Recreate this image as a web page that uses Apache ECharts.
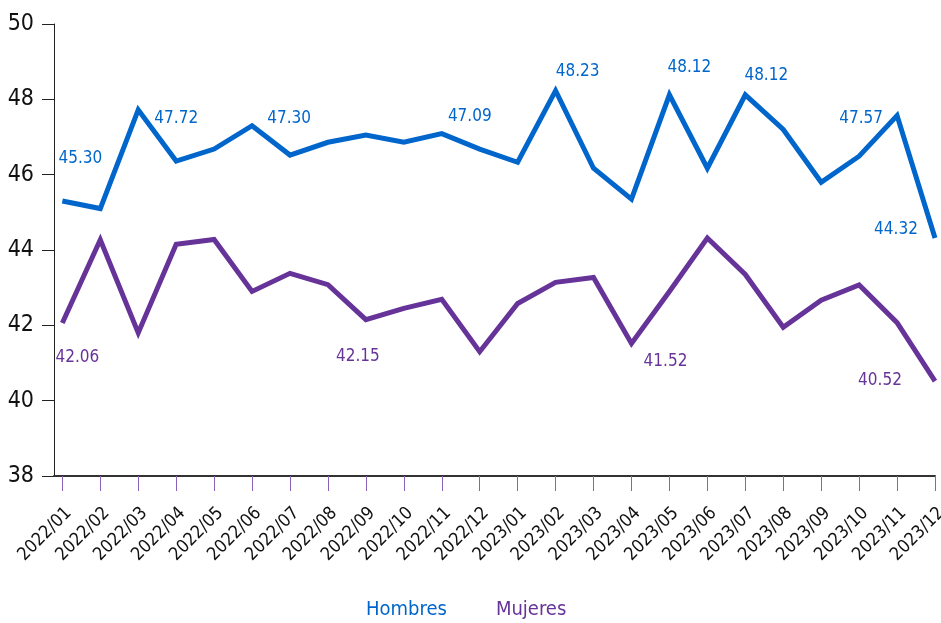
<!DOCTYPE html>
<html>
<head>
<meta charset="utf-8">
<script src="https://cdn.jsdelivr.net/npm/echarts@6/dist/echarts.min.js"></script>
<style>
html, body { margin: 0; padding: 0; background: #fff; }
#chart { width: 941px; height: 623px; }
</style>
</head>
<body>
<div id="chart"></div>
<script>
var months = ['2022/01', '2022/02', '2022/03', '2022/04', '2022/05', '2022/06',
    '2022/07', '2022/08', '2022/09', '2022/10', '2022/11', '2022/12',
    '2023/01', '2023/02', '2023/03', '2023/04', '2023/05', '2023/06',
    '2023/07', '2023/08', '2023/09', '2023/10', '2023/11', '2023/12'];
var hombres = [45.30, 45.10, 47.72, 46.36, 46.68, 47.30, 46.52, 46.86, 47.05, 46.86, 47.09, 46.68,
    46.33, 48.23, 46.17, 45.35, 48.12, 46.17, 48.12, 47.20, 45.80, 46.49, 47.57, 44.32];
var mujeres = [42.06, 44.27, 41.80, 44.15, 44.28, 42.90, 43.38, 43.08, 42.15, 42.45, 42.69, 41.30,
    42.58, 43.14, 43.27, 41.52, 42.90, 44.32, 43.35, 41.95, 42.67, 43.07, 42.07, 40.52];
// points that carry a value label
var hombresLabeled = [0, 2, 5, 10, 13, 16, 18, 22, 23];
var mujeresLabeled = [0, 8, 15, 23];

var FONT = "'Liberation Sans Narrow', 'DejaVu Sans Condensed', 'Open Sans', sans-serif";
var BLUE = '#0066cc';
var PURPLE = '#663399';

// where each label sits relative to its point
var hOffsets = {0: [18, -42], 2: [38, 9], 5: [37, -7], 10: [28, -17], 13: [22, -19],
    16: [20, -27], 18: [21, -19], 22: [-36, 3], 23: [-39, -8]};
var mOffsets = {0: [15, 35], 8: [-8, 37], 15: [34, 18], 23: [-55, -1]};

function buildData(values, labeled, offsets) {
    return values.map(function (v, i) {
        var item = {value: [i, v]};
        if (labeled.indexOf(i) >= 0) {
            item.label = {show: true, offset: offsets[i]};
        }
        return item;
    });
}

var idx = months.map(function (m, i) { return i; });

var chart = echarts.init(document.getElementById('chart'));
chart.setOption({
    animation: false,
    grid: {left: 54, right: 6, top: 24, bottom: 147, outerBoundsMode: 'none'},
    legend: {
        bottom: 3,
        left: 360,
        padding: 0,
        itemWidth: 0,
        itemHeight: 0,
        itemGap: 43,
        selectedMode: false,
        textStyle: {fontSize: 20, fontFamily: FONT},
        data: [
            {name: 'Hombres', textStyle: {color: BLUE}},
            {name: 'Mujeres', textStyle: {color: PURPLE}}
        ]
    },
    xAxis: {
        type: 'value',
        min: -0.22,
        max: 23,
        splitLine: {show: false},
        axisLine: {onZero: false, lineStyle: {color: '#333', width: 2}},
        axisTick: {
            show: true,
            customValues: idx,
            length: 15,
            lineStyle: {color: '#8a63b8', width: 1}
        },
        axisLabel: {
            customValues: idx,
            rotate: 45,
            margin: 28,
            verticalAlign: 'top',
            color: '#111',
            fontSize: 18,
            fontFamily: FONT,
            formatter: function (v) { return months[v]; }
        }
    },
    yAxis: {
        type: 'value',
        min: 38,
        max: 50,
        interval: 2,
        splitLine: {show: false},
        axisLine: {show: true, onZero: false, lineStyle: {color: '#222', width: 1}},
        axisTick: {show: true, length: 12, lineStyle: {color: '#222'}},
        axisLabel: {color: '#111', fontSize: 23, fontFamily: FONT, margin: 20}
    },
    series: [
        {
            name: 'Hombres',
            type: 'line',
            data: buildData(hombres, hombresLabeled, hOffsets),
            symbol: 'circle',
            symbolSize: 0,
            showSymbol: true,
            lineStyle: {color: BLUE, width: 5, join: 'miter'},
            itemStyle: {color: BLUE},
            label: {
                show: false,
                position: 'inside',
                color: BLUE,
                fontSize: 17,
                fontFamily: FONT,
                formatter: function (p) { return p.value[1].toFixed(2); }
            },
            emphasis: {disabled: true}
        },
        {
            name: 'Mujeres',
            type: 'line',
            data: buildData(mujeres, mujeresLabeled, mOffsets),
            symbol: 'circle',
            symbolSize: 0,
            showSymbol: true,
            lineStyle: {color: PURPLE, width: 5, join: 'miter'},
            itemStyle: {color: PURPLE},
            label: {
                show: false,
                position: 'inside',
                color: PURPLE,
                fontSize: 17,
                fontFamily: FONT,
                formatter: function (p) { return p.value[1].toFixed(2); }
            },
            emphasis: {disabled: true}
        }
    ]
});
</script>
</body>
</html>
